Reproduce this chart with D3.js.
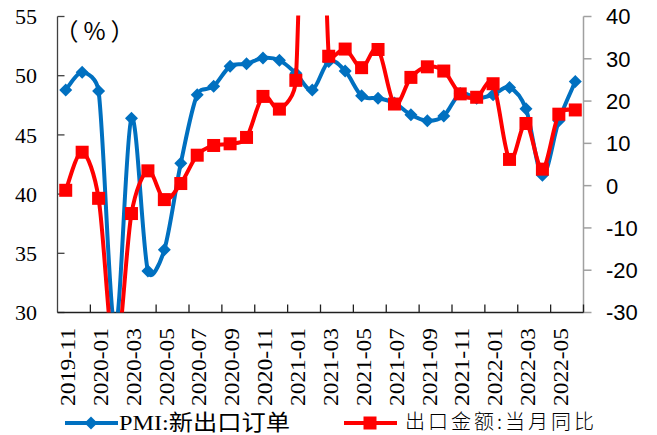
<!DOCTYPE html>
<html>
<head>
<meta charset="utf-8">
<script src="https://cdn.jsdelivr.net/npm/d3@7"></script>
<style>
html,body{margin:0;padding:0;background:#fff;}
svg{display:block;}
</style>
</head>
<body>
<svg id="chart" width="657" height="435"></svg>
<script>
const months = ["2019-11","2019-12","2020-01","2020-02","2020-03","2020-04","2020-05","2020-06","2020-07","2020-08","2020-09","2020-10","2020-11","2020-12","2021-01","2021-02","2021-03","2021-04","2021-05","2021-06","2021-07","2021-08","2021-09","2021-10","2021-11","2021-12","2022-01","2022-02","2022-03","2022-04","2022-05","2022-06"];
const pmiNewExport = [48.8,50.3,48.7,28.7,46.4,33.5,35.3,42.6,48.4,49.1,50.8,51.0,51.5,51.3,50.2,48.8,51.2,50.4,48.3,48.1,47.7,46.7,46.2,46.6,48.5,48.1,48.4,49.0,47.2,41.6,46.2,49.5];
const exportYoY = [-1.1,7.9,-3.0,-40.6,-6.6,3.5,-3.3,0.5,7.2,9.5,9.9,11.4,21.1,18.1,24.9,154.9,30.6,32.3,27.9,32.2,19.3,25.6,28.1,27.1,21.7,20.9,24.1,6.2,14.7,3.9,16.9,17.9];
const leftTicks = [30,35,40,45,50,55];
const rightTicks = [-30,-20,-10,0,10,20,30,40];
const tickLabelMonths = months.filter((m,i)=> i%2===0);
const seriesNames = ["PMI:新出口订单","出口金额:当月同比"];

const svg = d3.select("#chart");
const x0 = 57.5, x1 = 583.5, yTop = 16.5, yBot = 312.5;

const x = d3.scaleBand().domain(months).range([x0,x1]).paddingInner(0).paddingOuter(0);
const yL = d3.scaleLinear().domain([30,55]).range([yBot,yTop]);
const yR = d3.scaleLinear().domain([-30,40]).range([yBot,yTop]);
const cx = m => x(m) + x.bandwidth()/2;

svg.append("defs").append("clipPath").attr("id","plotclip")
  .append("rect").attr("x",x0).attr("y",yTop-1).attr("width",x1-x0).attr("height",yBot-yTop+1);

// left axis
const gL = svg.append("g");
gL.append("line").attr("x1",x0).attr("x2",x0).attr("y1",yTop).attr("y2",yBot).attr("stroke","#404040").attr("stroke-width",1.3);
leftTicks.forEach(t=>{
  gL.append("line").attr("x1",x0).attr("x2",x0+7).attr("y1",yL(t)).attr("y2",yL(t)).attr("stroke","#404040").attr("stroke-width",1.3);
  gL.append("text").attr("x",37).attr("y",yL(t)).attr("dy","0.35em").attr("text-anchor","end")
    .attr("font-family","'Liberation Serif','Times New Roman',serif").attr("font-size",22).attr("fill","#000").text(t);
});
// right axis
const gR = svg.append("g");
gR.append("line").attr("x1",x1).attr("x2",x1).attr("y1",yTop).attr("y2",yBot).attr("stroke","#a0a0a0").attr("stroke-width",1.5);
rightTicks.forEach(t=>{
  gR.append("line").attr("x1",x1).attr("x2",x1+8).attr("y1",yR(t)).attr("y2",yR(t)).attr("stroke","#a0a0a0").attr("stroke-width",1.5);
  gR.append("text").attr("x",606).attr("y",yR(t)).attr("dy","0.36em").attr("text-anchor","start")
    .attr("font-family","'Liberation Sans',Arial,sans-serif").attr("font-size",22).attr("fill","#000").text(t);
});
// bottom axis
const gB = svg.append("g");
gB.append("line").attr("x1",x0).attr("x2",x1).attr("y1",yBot).attr("y2",yBot).attr("stroke","#202020").attr("stroke-width",1.5);
months.forEach((m,i)=>{
  if(i%2===0 && i>0){
    gB.append("line").attr("x1",x(m)).attr("x2",x(m)).attr("y1",yBot).attr("y2",yBot-8).attr("stroke","#202020").attr("stroke-width",1.3);
  }
});
gB.append("line").attr("x1",x1).attr("x2",x1).attr("y1",yBot).attr("y2",yBot-8).attr("stroke","#202020").attr("stroke-width",1.3);
tickLabelMonths.forEach(m=>{
  const px = cx(m)+1.5, py = 328;
  gB.append("text").attr("transform",`translate(${px},${py}) rotate(-90)`)
    .attr("text-anchor","end").attr("dy","0.35em")
    .attr("font-family","'Liberation Serif','Times New Roman',serif").attr("font-size",22)
    .attr("textLength",78).attr("lengthAdjust","spacingAndGlyphs")
    .attr("fill","#000").text(m);
});

// (%) label
svg.append("text").attr("x",97).attr("y",40).attr("text-anchor","middle")
  .attr("font-family","'Noto Sans CJK SC',sans-serif").attr("font-size",24).attr("letter-spacing",5).attr("fill","#000").text("（%）");

const blue = "#0070C0", red = "#FF0000";
const plot = svg.append("g").attr("clip-path","url(#plotclip)");

// Excel-style smoothed line: Bezier control arms = min(chord/6, segment/2)
function smoothPath(pts){
  const p = d3.path();
  const n = pts.length;
  const dist = (a,b)=>Math.hypot(b[0]-a[0], b[1]-a[1]);
  p.moveTo(pts[0][0], pts[0][1]);
  for(let i=0;i<n-1;i++){
    const P0 = pts[Math.max(i-1,0)], P1 = pts[i], P2 = pts[i+1], P3 = pts[Math.min(i+2,n-1)];
    const d02 = dist(P0,P2), d12 = dist(P1,P2), d13 = dist(P1,P3);
    let f = 1/6, g = 1/6;
    if(d02/6 >= d12/2 && d02>0) f = d12/(2*d02);
    if(d13/6 >= d12/2 && d13>0) g = d12/(2*d13);
    const c1 = [P1[0] + (P2[0]-P0[0])*f, P1[1] + (P2[1]-P0[1])*f];
    const c2 = [P2[0] - (P3[0]-P1[0])*g, P2[1] - (P3[1]-P1[1])*g];
    p.bezierCurveTo(c1[0],c1[1],c2[0],c2[1],P2[0],P2[1]);
  }
  return p.toString();
}
const ptsL = pmiNewExport.map((d,i)=>[cx(months[i]), yL(d)]);
const ptsR = exportYoY.map((d,i)=>[cx(months[i]), yR(d)]);

plot.append("path").attr("d",smoothPath(ptsL)).attr("fill","none").attr("stroke",blue).attr("stroke-width",4).attr("stroke-linejoin","round");
const diamond = s => `M0,${-s} L${s},0 L0,${s} L${-s},0 Z`;
plot.selectAll(".dm").data(pmiNewExport).enter().append("path")
  .attr("transform",(d,i)=>`translate(${cx(months[i])},${yL(d)})`)
  .attr("d",diamond(6.5)).attr("fill",blue);

plot.append("path").attr("d",smoothPath(ptsR)).attr("fill","none").attr("stroke",red).attr("stroke-width",4).attr("stroke-linejoin","round");
plot.selectAll(".sq").data(exportYoY).enter().append("rect")
  .attr("x",(d,i)=>cx(months[i])-6.5).attr("y",d=>yR(d)-6.5).attr("width",13).attr("height",13).attr("fill",red);

// Legend
const lg = svg.append("g");
const ly = 423;
lg.append("line").attr("x1",65).attr("x2",118).attr("y1",ly).attr("y2",ly).attr("stroke",blue).attr("stroke-width",4);
lg.append("path").attr("transform",`translate(91,${ly})`).attr("d",diamond(6.5)).attr("fill",blue);
lg.append("text").attr("x",119).attr("y",430)
  .attr("font-family","'Liberation Serif','Noto Sans CJK SC',serif").attr("font-size",22)
  .attr("textLength",171).attr("lengthAdjust","spacingAndGlyphs").attr("fill","#000").text(seriesNames[0]);
lg.append("line").attr("x1",344).attr("x2",397).attr("y1",ly).attr("y2",ly).attr("stroke",red).attr("stroke-width",4);
lg.append("rect").attr("x",370-6.5).attr("y",ly-6.5).attr("width",13).attr("height",13).attr("fill",red);
lg.append("text").attr("x",405).attr("y",429)
  .attr("font-family","'Noto Sans CJK SC',sans-serif").attr("font-size",20).attr("font-weight",300)
  .attr("letter-spacing",3).attr("fill","#000").text(seriesNames[1]);
</script>
</body>
</html>
